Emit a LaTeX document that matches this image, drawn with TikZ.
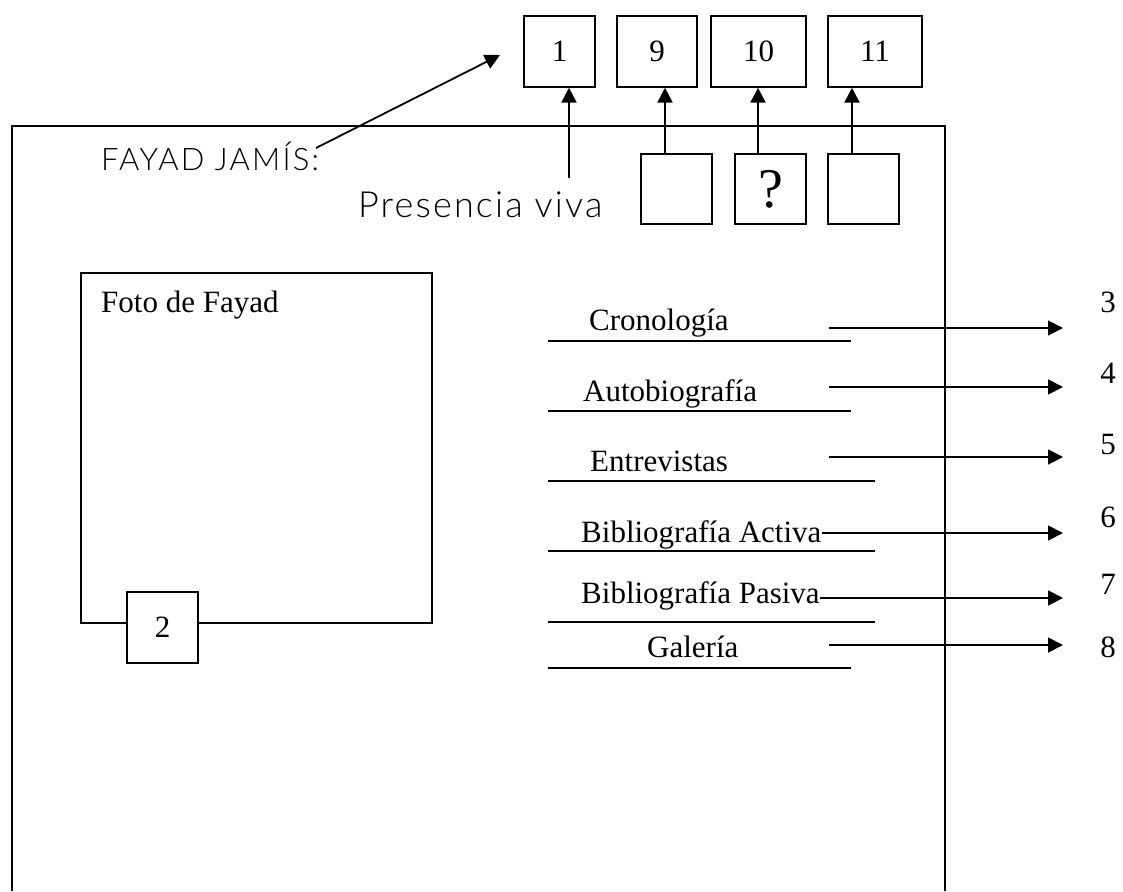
\documentclass[tikz,border=0pt]{standalone}
\usepackage{fontspec}
\setmainfont{Liberation Serif}
\newfontfamily\gothic{Lato}[UprightFont=* Light,LetterSpace=7]
\newfontfamily\gothicb{Lato}[UprightFont=* Light,LetterSpace=6]
\usetikzlibrary{arrows.meta,calc}
\begin{document}
\begin{tikzpicture}[x=1pt,y=-1pt,
  box/.style={draw,line width=1.4pt,fill=white,inner sep=0,font=\fontsize{31}{31}\selectfont},
  arr/.style={line width=1.8pt,-{Triangle[length=15pt,width=15pt]}},
  varr/.style={arr,line width=2.4pt},
  lbl/.style={inner sep=0,anchor=base west,font=\fontsize{31}{31}\selectfont},
  rule/.style={line width=1.4pt},
  num/.style={inner sep=0,font=\fontsize{31}{31}\selectfont}]
\useasboundingbox (0,0) rectangle (1123,891);
% frame
\draw[rule] (12,891) -- (12,126) -- (945,126) -- (945,891);
% top boxes
\node[box,minimum width=71pt,minimum height=71pt] (b1) at (559.5,51.5) {1};
\node[box,minimum width=80pt,minimum height=71pt] (b9) at (657,51.5) {9};
\node[box,minimum width=95pt,minimum height=71pt] (b10) at (758.5,51.5) {10};
\node[box,minimum width=94pt,minimum height=71pt] (b11) at (875,51.5) {11};
% lower boxes
\node[box,minimum width=71pt,minimum height=70pt] (ba) at (676.5,189) {};
\node[box,minimum width=71pt,minimum height=70pt,font=\fontsize{56}{56}\selectfont] (bq) at (770.5,189) {?};
\node[box,minimum width=71pt,minimum height=70pt] (bc) at (863.5,189) {};
\draw[varr] (ba.north -| 665,0) -- (b9.south -| 665,0);
\draw[varr] (bq.north -| 758,0) -- (b10.south -| 758,0);
\draw[varr] (bc.north -| 852,0) -- (b11.south -| 852,0);
% titles
\node[inner sep=0,anchor=base west,font=\gothic\fontsize{31}{31}\selectfont] (fj) at (101,170) {FAYAD JAMÍS:};
\node[inner sep=0,anchor=base west,font=\gothicb\fontsize{36}{36}\selectfont] (pv) at (358,217) {Presencia viva};
\coordinate (fjend) at (316,148);
\coordinate (fjtip) at (500,55);
\draw[arr] (fjend) -- (fjtip);
\coordinate (pvtop) at (569,178);
\draw[varr] (pvtop) -- (pvtop |- b1.south);
% photo box
\node[draw,line width=1.4pt,minimum width=351pt,minimum height=350pt,inner sep=0] (foto) at (256.5,448) {};
\node[lbl] (fototxt) at (101,312) {Foto de Fayad};
\node[box,minimum width=71pt,minimum height=71pt] (b2) at (162.5,627.5) {2};
% menu items
\node[lbl] (t3) at (589,330) {Cronología};
\node[lbl] (t4) at (583,401) {Autobiografía};
\node[lbl] (t5) at (590,471) {Entrevistas};
\node[lbl] (t6) at (581,542) {Bibliografía Activa};
\node[lbl] (t7) at (581,603) {Bibliografía Pasiva};
\node[lbl] (t8) at (647,657) {Galería};
\draw[rule] (548,341) -- (851,341);
\draw[rule] (548,411) -- (851,411);
\draw[rule] (548,481) -- (875,481);
\draw[rule] (548,551) -- (875,551);
\draw[rule] (548,622) -- (875,622);
\draw[rule] (548,668) -- (851,668);
\node[num] (n3) at (1108,302) {3};
\node[num] (n4) at (1108,373) {4};
\node[num] (n5) at (1108,444) {5};
\node[num] (n6) at (1108,517) {6};
\node[num] (n7) at (1108,584) {7};
\node[num] (n8) at (1108,647) {8};
\coordinate (s3) at (829,328); \coordinate (e3) at (1063,328);
\coordinate (s4) at (829,387); \coordinate (e4) at (1063,387);
\coordinate (s5) at (829,457); \coordinate (e5) at (1063,457);
\coordinate (e6) at (1063,533);
\coordinate (e7) at (1063,598);
\coordinate (s8) at (829,645); \coordinate (e8) at (1063,645);
\draw[arr] (s3) -- (e3);
\draw[arr] (s4) -- (e4);
\draw[arr] (s5) -- (e5);
\draw[arr] (t6.east |- e6) -- (e6);
\draw[arr] (t7.east |- e7) -- (e7);
\draw[arr] (s8) -- (e8);
\end{tikzpicture}
\end{document}
